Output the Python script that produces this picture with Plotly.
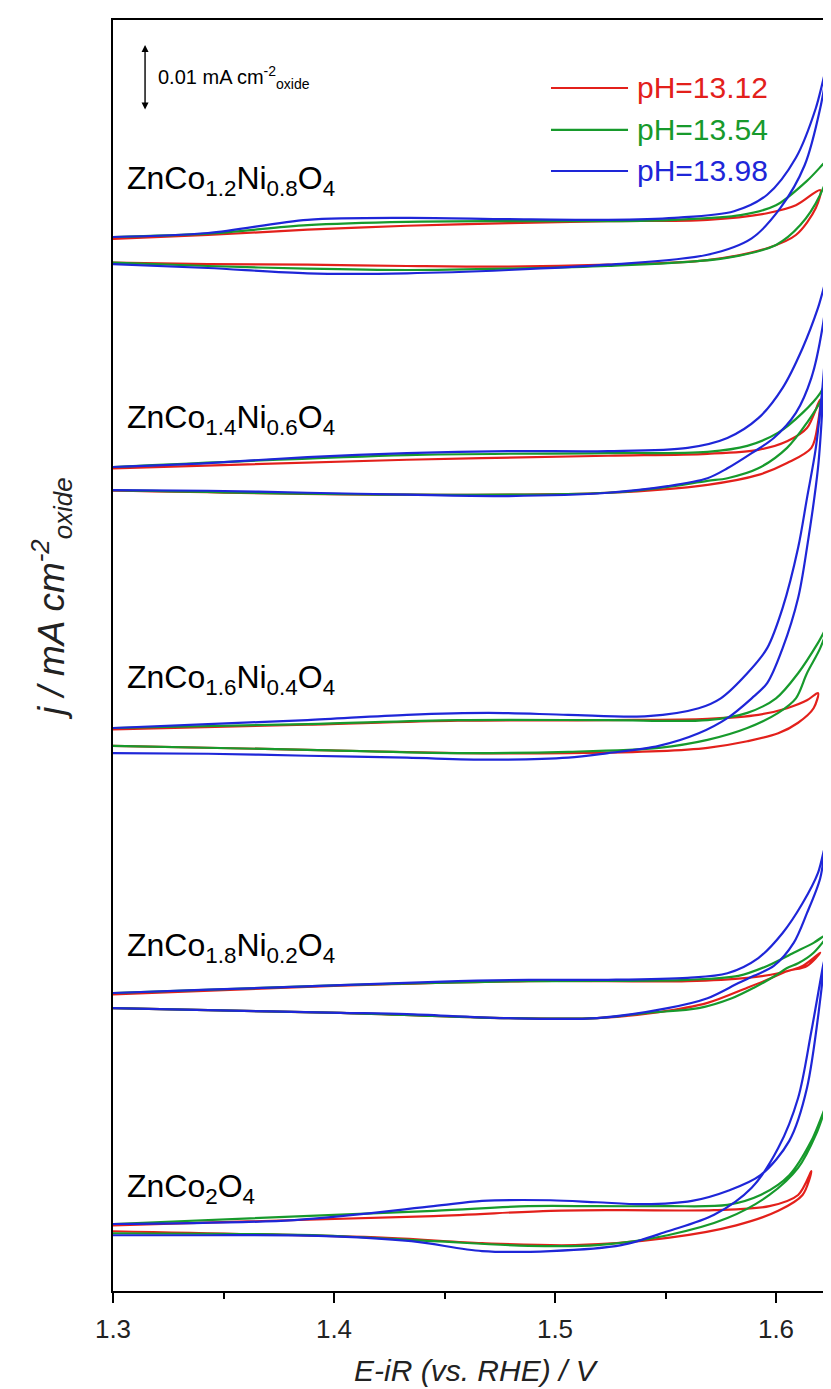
import plotly.graph_objects as go

# ---------------- data (E in V vs RHE, j in µA cm^-2 relative to each sample's baseline) -------------
sample_names = [
    "ZnCo<sub>1.2</sub>Ni<sub>0.8</sub>O<sub>4</sub>",
    "ZnCo<sub>1.4</sub>Ni<sub>0.6</sub>O<sub>4</sub>",
    "ZnCo<sub>1.6</sub>Ni<sub>0.4</sub>O<sub>4</sub>",
    "ZnCo<sub>1.8</sub>Ni<sub>0.2</sub>O<sub>4</sub>",
    "ZnCo<sub>2</sub>O<sub>4</sub>",
]
# vertical offsets of the stacked CVs (mA cm^-2)
sample_offsets = [0.1597, 0.12485, 0.0853, 0.04515, 0.01015]
# label heights (same units as the y axis)
label_levels = [0.1682, 0.1320, 0.0927, 0.0521, 0.0155]

ph_labels = ["pH=13.12", "pH=13.54", "pH=13.98"]
ph_colors = ["#e3201b", "#179a2c", "#1e26d8"]

# ZnCo1.2Ni0.8O4
s1_red_E = [1.300,1.343,1.388,1.433,1.479,1.524,1.569,1.596,1.609,1.620,1.618,1.609,1.596,1.569,1.524,1.479,1.433,1.388,1.343,1.300]
s1_red_j = [-0.3,0.3,1.1,1.7,2.1,2.4,2.6,3.6,4.8,7.1,4.4,0.3,-1.7,-3.5,-4.2,-4.5,-4.4,-4.2,-4.1,-3.9]
s1_green_E = [1.300,1.343,1.388,1.433,1.479,1.524,1.554,1.584,1.600,1.614,1.626,1.620,1.611,1.600,1.577,1.524,1.479,1.433,1.388,1.343,1.300]
s1_green_j = [0,0.5,1.8,2.3,2.4,2.4,2.6,3.3,4.8,8.5,12.4,6.4,1.8,-1.2,-3.2,-4.4,-4.8,-5.0,-4.8,-4.4,-3.9]
s1_blue_E = [1.300,1.343,1.388,1.433,1.479,1.524,1.554,1.581,1.596,1.609,1.618,1.624,1.620,1.613,1.602,1.589,1.569,1.524,1.479,1.433,1.388,1.343,1.300]
s1_blue_j = [0,0.6,2.6,2.9,2.7,2.6,2.9,3.9,6.4,12.0,19.5,27.4,19.5,10.9,4.4,-0.2,-2.7,-4.2,-5.0,-5.5,-5.5,-4.7,-4.1]

# ZnCo1.4Ni0.6O4
s2_red_E = [1.300,1.433,1.524,1.569,1.592,1.605,1.614,1.620,1.619,1.616,1.605,1.592,1.569,1.524,1.433,1.300]
s2_red_j = [-0.2,1.1,1.7,2.0,2.6,3.9,5.9,10.2,6.7,2.9,0.6,-1.2,-2.7,-3.9,-4.2,-3.6]
s2_green_E = [1.300,1.433,1.524,1.569,1.587,1.601,1.612,1.620,1.625,1.621,1.614,1.605,1.592,1.578,1.569,1.547,1.524,1.433,1.300]
s2_green_j = [0,1.8,2.1,2.3,3.2,5.2,8.2,11.2,14.7,10.5,6.7,2.9,-0.2,-1.7,-2.1,-3.2,-3.9,-4.2,-3.5]
s2_blue_E = [1.300,1.343,1.388,1.433,1.479,1.524,1.560,1.578,1.592,1.603,1.612,1.619,1.624,1.621,1.616,1.609,1.599,1.589,1.578,1.569,1.551,1.524,1.479,1.433,1.388,1.343,1.300]
s2_blue_j = [0,0.6,1.5,2.1,2.4,2.4,2.9,4.4,7.4,12.0,18.0,24.1,29.8,21.1,13.5,8.2,4.4,2.1,-0.2,-1.7,-2.9,-3.9,-4.4,-4.2,-3.9,-3.6,-3.5]

# ZnCo1.6Ni0.4O4
s3_red_E = [1.300,1.388,1.456,1.524,1.569,1.592,1.605,1.614,1.619,1.617,1.610,1.601,1.587,1.569,1.547,1.506,1.456,1.388,1.300]
s3_red_j = [-0.2,0.5,1.1,1.2,1.4,2.0,3.0,4.2,5.3,3.0,0.8,-0.8,-2.0,-3.0,-3.5,-3.8,-3.8,-3.3,-2.7]
s3_green_E = [1.300,1.388,1.456,1.524,1.569,1.587,1.600,1.610,1.619,1.624,1.620,1.614,1.609,1.601,1.587,1.569,1.547,1.506,1.456,1.388,1.300]
s3_green_j = [0,0.6,1.2,1.2,1.2,2.3,4.5,8.3,12.9,15.9,12.1,8.3,4.5,2.3,0,-1.8,-3.0,-3.6,-3.8,-3.3,-2.7]
s3_blue_E = [1.300,1.343,1.388,1.433,1.470,1.506,1.542,1.565,1.575,1.587,1.596,1.603,1.610,1.614,1.618,1.621,1.623,1.621,1.619,1.614,1.610,1.603,1.596,1.589,1.578,1.565,1.547,1.524,1.506,1.470,1.433,1.388,1.343,1.300]
s3_blue_j = [0,0.6,1.2,2.0,2.3,2.0,1.8,3.0,4.5,8.3,12.1,18.2,27.3,34.8,42.4,51.5,59.8,48.5,39.4,27.3,19.7,12.1,6.8,4.5,1.5,-0.8,-2.7,-3.8,-4.5,-4.8,-4.5,-4.2,-3.9,-3.8]

# ZnCo1.8Ni0.2O4
s4_red_E = [1.300,1.403,1.488,1.560,1.587,1.601,1.612,1.620,1.614,1.605,1.596,1.587,1.569,1.547,1.519,1.477,1.403,1.300]
s4_red_j = [-0.2,1.1,1.8,1.8,2.3,3.0,4.1,6.1,4.1,3.3,2.0,0.8,-1.5,-2.9,-3.8,-3.8,-3.0,-2.3]
s4_green_E = [1.300,1.403,1.488,1.560,1.583,1.596,1.608,1.617,1.624,1.617,1.610,1.605,1.600,1.590,1.580,1.565,1.542,1.519,1.477,1.403,1.300]
s4_green_j = [0,1.2,1.8,2.0,2.6,4.1,6.1,7.6,9.1,6.1,4.5,3.8,2.7,0.8,-0.8,-2.3,-3.0,-3.8,-3.8,-3.0,-2.3]
s4_blue_E = [1.300,1.343,1.403,1.456,1.488,1.524,1.560,1.578,1.592,1.603,1.612,1.619,1.622,1.620,1.614,1.608,1.599,1.590,1.583,1.569,1.551,1.519,1.477,1.433,1.403,1.343,1.300]
s4_blue_j = [0,0.5,1.2,1.8,2.0,2.0,2.3,3.0,5.3,9.1,13.6,18.2,22.0,17.4,12.1,7.6,4.1,2.6,1.5,-0.8,-2.3,-3.8,-3.8,-3.2,-3.0,-2.6,-2.3]

# ZnCo2O4
s5_red_E = [1.300,1.445,1.498,1.530,1.572,1.597,1.610,1.616,1.612,1.601,1.582,1.551,1.509,1.467,1.424,1.300]
s5_red_j = [-0.2,1.2,2.0,2.1,2.1,2.7,4.4,8.0,4.4,2.0,-0.2,-2.1,-3.2,-2.9,-2.1,-1.1]
s5_green_E = [1.300,1.445,1.488,1.519,1.551,1.578,1.593,1.606,1.616,1.623,1.618,1.610,1.597,1.578,1.551,1.519,1.488,1.445,1.393,1.300]
s5_green_j = [0,2.0,2.7,2.7,2.7,2.9,4.4,7.4,12.6,18.3,13.5,8.5,4.4,0.9,-1.7,-3.2,-3.3,-2.6,-1.7,-1.4]
s5_blue_E = [1.300,1.382,1.445,1.467,1.498,1.519,1.540,1.562,1.578,1.593,1.606,1.614,1.622,1.616,1.610,1.601,1.589,1.572,1.551,1.530,1.498,1.467,1.435,1.393,1.340,1.300]
s5_blue_j = [0,0.6,2.7,3.5,3.6,3.3,3.0,3.5,5.0,7.4,12.6,20.6,40.3,29.2,19.1,11.5,5.5,1.4,-1.1,-3.2,-4.1,-4.1,-2.6,-1.8,-1.7,-1.7]

curves = [
    [(s1_red_E, s1_red_j), (s1_green_E, s1_green_j), (s1_blue_E, s1_blue_j)],
    [(s2_red_E, s2_red_j), (s2_green_E, s2_green_j), (s2_blue_E, s2_blue_j)],
    [(s3_red_E, s3_red_j), (s3_green_E, s3_green_j), (s3_blue_E, s3_blue_j)],
    [(s4_red_E, s4_red_j), (s4_green_E, s4_green_j), (s4_blue_E, s4_blue_j)],
    [(s5_red_E, s5_red_j), (s5_green_E, s5_green_j), (s5_blue_E, s5_blue_j)],
]

x_ticks = [1.3, 1.4, 1.5, 1.6]
x_tick_text = ["1.3", "1.4", "1.5", "1.6"]
scale_bar_value = 0.01  # mA cm^-2

# ---------------- figure -------------------------------------------------------------
FONT = "Liberation Sans, Arial, sans-serif"
fig = go.Figure()

for k, sample in enumerate(curves):
    for p, (E, j) in enumerate(sample):
        fig.add_trace(go.Scatter(
            x=E, y=[sample_offsets[k] + v / 1000.0 for v in j],
            mode="lines", line=dict(color=ph_colors[p], width=2.2, shape="spline", smoothing=0.9),
            showlegend=False, hoverinfo="skip",
        ))

# sample labels
for k, name in enumerate(sample_names):
    fig.add_annotation(x=0.017, xref="paper", y=label_levels[k], yref="y",
                       text=name, showarrow=False, xanchor="left", yanchor="middle",
                       font=dict(family=FONT, size=32, color="black"))

# legend (drawn manually to mimic line length)
leg_rows = [0.9465, 0.9135, 0.8812]
for p in range(3):
    fig.add_shape(type="line", xref="paper", yref="paper",
                  x0=0.6033, x1=0.7094, y0=leg_rows[p], y1=leg_rows[p],
                  line=dict(color=ph_colors[p], width=2.2))
    fig.add_annotation(x=0.7190, xref="paper", y=leg_rows[p], yref="paper",
                       text=ph_labels[p], showarrow=False, xanchor="left", yanchor="middle",
                       font=dict(family=FONT, size=30, color=ph_colors[p]))

# scale bar (double arrow of 0.01 mA cm^-2)
y_top_bar = 0.1888
fig.add_annotation(x=1.3145, y=y_top_bar, xref="x", yref="y",
                   ax=1.3145, ay=y_top_bar - scale_bar_value, axref="x", ayref="y",
                   text="", showarrow=True, arrowhead=2, arrowsize=1.0, arrowwidth=1.4,
                   arrowside="end+start", arrowcolor="black")
fig.add_annotation(x=0.0592, xref="paper", y=y_top_bar - scale_bar_value / 2, yref="y",
                   text="0.01 mA cm<sup>-2</sup><sub>oxide</sub>", showarrow=False,
                   xanchor="left", yanchor="middle", font=dict(family=FONT, size=20, color="black"))

# axis titles
fig.add_annotation(x=0.5, xref="paper", y=-0.0625, yref="paper",
                   text="<i>E-iR (vs. RHE) / V</i>", showarrow=False,
                   xanchor="center", yanchor="middle", font=dict(family=FONT, size=30, color="#222"))
fig.add_annotation(x=-0.0854, xref="paper", y=0.5452, yref="paper",
                   text="<i>j / mA cm<sup>-2</sup><sub>oxide</sub></i>", showarrow=False, textangle=-90,
                   xanchor="center", yanchor="middle", font=dict(family=FONT, size=37, color="#222"))

fig.update_layout(
    width=831, height=1389,
    margin=dict(l=105, r=0, t=12, b=106),
    plot_bgcolor="white", paper_bgcolor="white",
    font=dict(family=FONT, color="black"),
    showlegend=False,
)
fig.update_xaxes(range=[1.3, 1.6285], tickvals=x_ticks, ticktext=x_tick_text,
                 ticks="outside", ticklen=10, tickwidth=1.5, tickcolor="black",
                 minor=dict(ticks="outside", ticklen=6, tickwidth=1.5, tickcolor="black", dtick=0.05, tick0=1.3),
                 showline=True, linewidth=2, linecolor="black", mirror=True,
                 showgrid=False, zeroline=False,
                 tickfont=dict(family=FONT, size=26, color="#222"), ticklabelstandoff=4)
fig.update_yaxes(range=[0, 0.192576], showticklabels=False, ticks="",
                 showline=True, linewidth=2, linecolor="black", mirror=False,
                 showgrid=False, zeroline=False)

fig.write_html("out.html")
